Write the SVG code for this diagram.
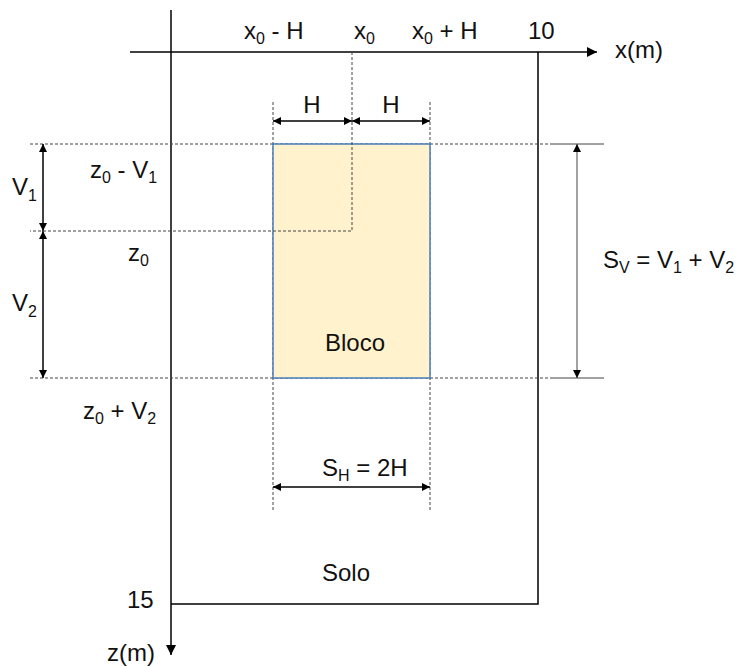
<svg xmlns="http://www.w3.org/2000/svg" width="742" height="666" viewBox="0 0 742 666">
<style>
text{font-family:"Liberation Sans",Arial,sans-serif;font-size:24px;fill:#111}
.sub{font-size:16px}
.ax{stroke:#000;stroke-width:1.5;fill:none}
.dash{stroke:#444;stroke-width:1;stroke-dasharray:3 2;fill:none}
.dim{stroke:#000;stroke-width:1.5;fill:none}
.thin{stroke:#444;stroke-width:1;fill:none}
</style>
<defs>
<marker id="ah" viewBox="0 0 10 10" refX="10" refY="5" markerWidth="8" markerHeight="8" markerUnits="userSpaceOnUse" orient="auto-start-reverse"><path d="M0,0 L10,5 L0,10 z" fill="#000"/></marker>
<marker id="ah2" viewBox="0 0 10 10" refX="10" refY="5" markerWidth="10" markerHeight="10" markerUnits="userSpaceOnUse" orient="auto-start-reverse"><path d="M0,0 L10,5 L0,10 z" fill="#000"/></marker>
</defs>
<rect width="742" height="666" fill="#fff"/>
<g id="domain">
<path class="ax" d="M171,604 H538 V52"/>
</g>
<g id="connectors">
<line class="ax" x1="130" y1="52" x2="597" y2="52" marker-end="url(#ah2)"/>
<line class="ax" x1="171" y1="10" x2="171" y2="655" marker-end="url(#ah2)"/>
<line class="dash" x1="30" y1="144" x2="553" y2="144"/>
<line class="dash" x1="30" y1="378" x2="553" y2="378"/>
<line class="thin" x1="553" y1="144" x2="604" y2="144"/>
<line class="thin" x1="553" y1="378" x2="604" y2="378"/>
<line class="dash" x1="273" y1="102" x2="273" y2="510"/>
<line class="dash" x1="430" y1="102" x2="430" y2="510"/>
<line class="dim" x1="273" y1="121" x2="352" y2="121" marker-start="url(#ah)" marker-end="url(#ah)"/>
<line class="dim" x1="352" y1="121" x2="430" y2="121" marker-start="url(#ah)" marker-end="url(#ah)"/>
<line class="dim" x1="273" y1="487" x2="430" y2="487" marker-start="url(#ah)" marker-end="url(#ah)"/>
<line class="dim" x1="43" y1="144" x2="43" y2="231" marker-start="url(#ah)" marker-end="url(#ah)"/>
<line class="dim" x1="43" y1="231" x2="43" y2="378" marker-start="url(#ah)" marker-end="url(#ah)"/>
<line class="thin" x1="577" y1="144" x2="577" y2="378" marker-start="url(#ah)" marker-end="url(#ah)"/>
</g>
<g id="bloco">
<rect x="273" y="144" width="157" height="234" fill="#FFF2CC" stroke="#4A7EBB" stroke-width="1.5"/>
<text x="355" y="351" text-anchor="middle">Bloco</text>
</g>
<g id="guides">
<path class="dash" d="M352,52 V231 H30"/>
</g>
<g id="labels">
<text x="244" y="39">x<tspan class="sub" dy="5">0</tspan><tspan dy="-5"> - H</tspan></text>
<text x="354" y="39">x<tspan class="sub" dy="5">0</tspan></text>
<text x="412" y="39">x<tspan class="sub" dy="5">0</tspan><tspan dy="-5"> + H</tspan></text>
<text x="528" y="39">10</text>
<text x="615" y="58">x(m)</text>
<text x="312" y="113" text-anchor="middle">H</text>
<text x="391" y="113" text-anchor="middle">H</text>
<text x="12" y="195">V<tspan class="sub" dy="6">1</tspan></text>
<text x="12" y="311">V<tspan class="sub" dy="6">2</tspan></text>
<text x="90" y="178">z<tspan class="sub" dy="5">0</tspan><tspan dy="-5"> - V</tspan><tspan class="sub" dy="5">1</tspan></text>
<text x="128" y="261">z<tspan class="sub" dy="5">0</tspan></text>
<text x="83" y="419">z<tspan class="sub" dy="5">0</tspan><tspan dy="-5"> + V</tspan><tspan class="sub" dy="5">2</tspan></text>
<text x="603" y="268">S<tspan class="sub" dy="5">V</tspan><tspan dy="-5"> = V</tspan><tspan class="sub" dy="5">1</tspan><tspan dy="-5"> + V</tspan><tspan class="sub" dy="5">2</tspan></text>
<text x="322" y="476">S<tspan class="sub" dy="5">H</tspan><tspan dy="-5"> = 2H</tspan></text>
<text x="322" y="581">Solo</text>
<text x="127" y="608">15</text>
<text x="107" y="661">z(m)</text>
</g>
</svg>
